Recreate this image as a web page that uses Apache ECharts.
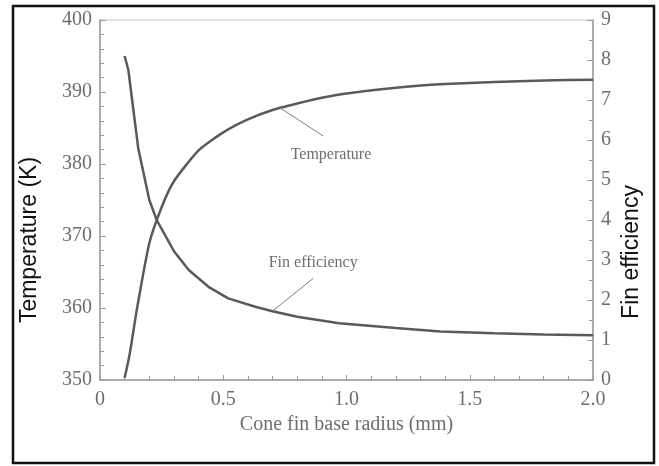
<!DOCTYPE html>
<html>
<head>
	<meta charset="utf-8" />
	<title>Cone fin</title>
	<script type="text/javascript" src="https://cdn.jsdelivr.net/npm/echarts@6/dist/echarts.min.js"></script>
	<style type="text/css">
		html, body { margin: 0; padding: 0; background: #fff; }
		#container { width: 659px; height: 466px; }
	</style>
</head>
<body>
<div id="container"></div>
<script type="text/javascript">
	// values
	var tempRadius = [0.1, 0.12, 0.15, 0.2, 0.25, 0.3, 0.4, 0.5, 0.6, 0.7, 0.8, 0.9, 1.0, 1.2, 1.4, 1.6, 1.8, 2.0];
	var temperature = [350.3, 353.5, 359.9, 369.0, 374.0, 377.6, 381.9, 384.4, 386.2, 387.5, 388.4, 389.2, 389.8, 390.6, 391.1, 391.4, 391.6, 391.7];

	var effRadius = [0.1, 0.115, 0.155, 0.2, 0.23, 0.3, 0.36, 0.44, 0.52, 0.63, 0.7, 0.8, 0.97, 1.2, 1.38, 1.6, 1.8, 2.0];
	var efficiency = [8.1, 7.75, 5.8, 4.5, 4.0, 3.22, 2.75, 2.33, 2.04, 1.83, 1.72, 1.58, 1.42, 1.3, 1.21, 1.17, 1.14, 1.12];

	var xTicks = [0, 0.5, 1.0, 1.5, 2.0];

	function pairs(xs, ys) {
		return xs.map(function (x, i) { return [x, ys[i]]; });
	}

	var serif = 'Liberation Serif';
	var sans = 'Liberation Sans';
	var labelGray = '#6e6e6e';
	var axisGray = '#9a9a9a';
	var curve = '#5a5a5a';

	var chart = echarts.init(document.getElementById('container'));

	var option = {
		backgroundColor: '#fff',
		animation: false,
		grid: {
			left: 100, right: 66, top: 20, bottom: 86,
			show: true, borderColor: '#c8c8c8', borderWidth: 1
		},
		xAxis: {
			type: 'value', min: 0, max: 2, interval: 0.5,
			name: 'Cone fin base radius (mm)', nameLocation: 'middle', nameGap: 33,
			nameTextStyle: { fontFamily: serif, fontSize: 20, color: labelGray },
			axisLine: { lineStyle: { color: axisGray, width: 1.5 } },
			axisTick: { inside: true, length: 5, lineStyle: { color: axisGray } },
			minorTick: { show: true, splitNumber: 5, length: 4, lineStyle: { color: axisGray } },
			splitLine: { show: false },
			axisLabel: {
				fontFamily: serif, fontSize: 20, color: labelGray, margin: 10,
				formatter: function (v) { return xTicks.indexOf(v) === 0 ? '0' : v.toFixed(1); }
			}
		},
		yAxis: [
			{
				type: 'value', min: 350, max: 400, interval: 10, position: 'left',
				axisLine: { show: true, lineStyle: { color: axisGray, width: 1.5 } },
				axisTick: { show: true, inside: true, length: 6, lineStyle: { color: axisGray } },
				minorTick: { show: true, splitNumber: 5, length: 4, lineStyle: { color: axisGray } },
				splitLine: { show: false },
				axisLabel: { fontFamily: serif, fontSize: 20, color: labelGray, margin: 8 }
			},
			{
				type: 'value', min: 0, max: 9, interval: 1, position: 'right',
				axisLine: { show: true, lineStyle: { color: axisGray, width: 1.5 } },
				axisTick: { show: true, inside: true, length: 6, lineStyle: { color: axisGray } },
				minorTick: { show: true, splitNumber: 2, length: 4, lineStyle: { color: axisGray } },
				splitLine: { show: false },
				axisLabel: { fontFamily: serif, fontSize: 20, color: labelGray, margin: 8 }
			}
		],
		graphic: [
			{
				type: 'rect', silent: true,
				shape: { x: 13, y: 6, width: 641, height: 457 },
				style: { fill: 'none', stroke: '#111', lineWidth: 2.5 }
			},
			{
				type: 'text', x: 30, y: 240, rotation: Math.PI / 2,
				style: { text: 'Temperature (K)', fontFamily: sans, fontSize: 23, fill: '#111', textAlign: 'center', textVerticalAlign: 'middle' }
			},
			{
				type: 'text', x: 632, y: 252, rotation: Math.PI / 2,
				style: { text: 'Fin efficiency', fontFamily: sans, fontSize: 23, fill: '#111', textAlign: 'center', textVerticalAlign: 'middle' }
			}
		],
		series: [
			{
				name: 'Temperature', type: 'line', yAxisIndex: 0,
				data: pairs(tempRadius, temperature),
				smooth: 0.2, showSymbol: false,
				lineStyle: { color: curve, width: 2.5 },
				markLine: {
					silent: true, symbol: 'none', label: { show: false },
					lineStyle: { color: '#808080', width: 1, type: 'solid' },
					data: [[{ coord: [0.73, 387.8] }, { coord: [0.905, 383.9] }]]
				},
				markPoint: {
					silent: true, symbol: 'rect', symbolSize: 1,
					itemStyle: { color: 'rgba(0,0,0,0)' },
					label: { show: true, position: 'inside', formatter: 'Temperature', fontFamily: serif, fontSize: 16, color: labelGray },
					data: [{ coord: [0.937, 381.3] }]
				}
			},
			{
				name: 'Fin efficiency', type: 'line', yAxisIndex: 1,
				data: pairs(effRadius, efficiency),
				showSymbol: false,
				lineStyle: { color: curve, width: 2.5 },
				markLine: {
					silent: true, symbol: 'none', label: { show: false },
					lineStyle: { color: '#808080', width: 1, type: 'solid' },
					data: [[{ coord: [0.703, 1.74] }, { coord: [0.865, 2.54] }]]
				},
				markPoint: {
					silent: true, symbol: 'rect', symbolSize: 1,
					itemStyle: { color: 'rgba(0,0,0,0)' },
					label: { show: true, position: 'inside', formatter: 'Fin efficiency', fontFamily: serif, fontSize: 16, color: labelGray },
					data: [{ coord: [0.865, 2.93] }]
				}
			}
		]
	};

	chart.setOption(option);
</script>
</body>
</html>
